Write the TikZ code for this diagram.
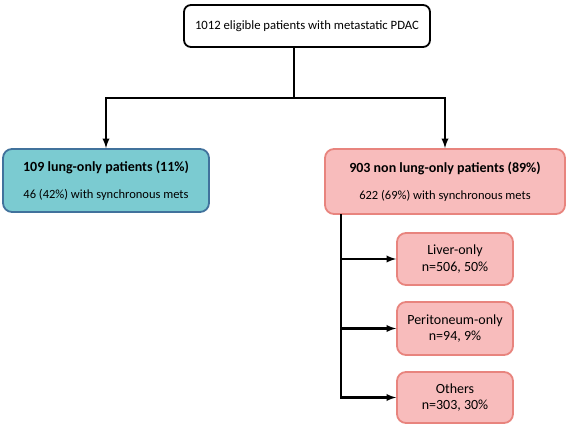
\documentclass[tikz,border=0pt]{standalone}
\usepackage{fontspec}
\setmainfont{Carlito}
\usetikzlibrary{arrows}
\definecolor{lungfill}{HTML}{7BCBD1}
\definecolor{lungline}{HTML}{41729C}
\definecolor{metsfill}{HTML}{F8BCBC}
\definecolor{metsline}{HTML}{E8847E}

\tikzset{
	cohort/.style={draw=black, line width=1.8pt, fill=white, rounded corners=7pt, align=center, font=\fontsize{12.7}{15}\selectfont},
	lungbox/.style={draw=lungline, line width=1.8pt, fill=lungfill, rounded corners=9pt, align=center},
	metsbox/.style={draw=metsline, line width=1.8pt, fill=metsfill, rounded corners=9pt, align=center},
	sitebox/.style={metsbox, font=\fontsize{14}{16.5}\selectfont},
	link/.style={line width=2.2pt, line cap=rect},
	flow/.style={link, -latex}
}

\begin{document}
\begin{tikzpicture}[x=1pt,y=-1pt]
	\useasboundingbox (0,0) rectangle (566,425);
	\node[cohort, minimum width=246pt, minimum height=42pt] (all) at (307,26) {1012 eligible patients with metastatic PDAC};
	\node[lungbox, minimum width=206pt, minimum height=63pt] (lung) at (106,180.5)
		{\fontsize{14}{16}\selectfont\bfseries 109 lung-only patients (11\%)\\[15pt]\fontsize{12.5}{14}\selectfont 46 (42\%) with synchronous mets};
	\node[metsbox, minimum width=240pt, minimum height=65pt] (other) at (445,181.5)
		{\fontsize{14}{16}\selectfont\bfseries 903 non lung-only patients (89\%)\\[15pt]\fontsize{12.5}{14}\selectfont 622 (69\%) with synchronous mets};
	\node[sitebox, minimum width=116pt, minimum height=52pt] (liver) at (455,259) {Liver-only\\n=506, 50\%};
	\node[sitebox, minimum width=116pt, minimum height=53pt] (perit) at (455,328.5) {Peritoneum-only\\n=94, 9\%};
	\node[sitebox, minimum width=116pt, minimum height=51pt] (rest) at (455,397.5) {Others\\n=303, 30\%};

	% split under the first box
	\coordinate (split) at (294,98);
	\draw[link] (split |- all.south) -- (split);
	\draw[flow] (split) -| (lung.north);
	\draw[flow] (split) -| (other.north);

	% sites of the non lung-only group
	\coordinate (trunk) at (341,0);
	\draw[link] (trunk |- other.south) -- (trunk |- rest.west);
	\foreach \site in {liver,perit,rest}
		\draw[flow] (trunk |- \site.west) -- (\site.west);
\end{tikzpicture}
\end{document}
